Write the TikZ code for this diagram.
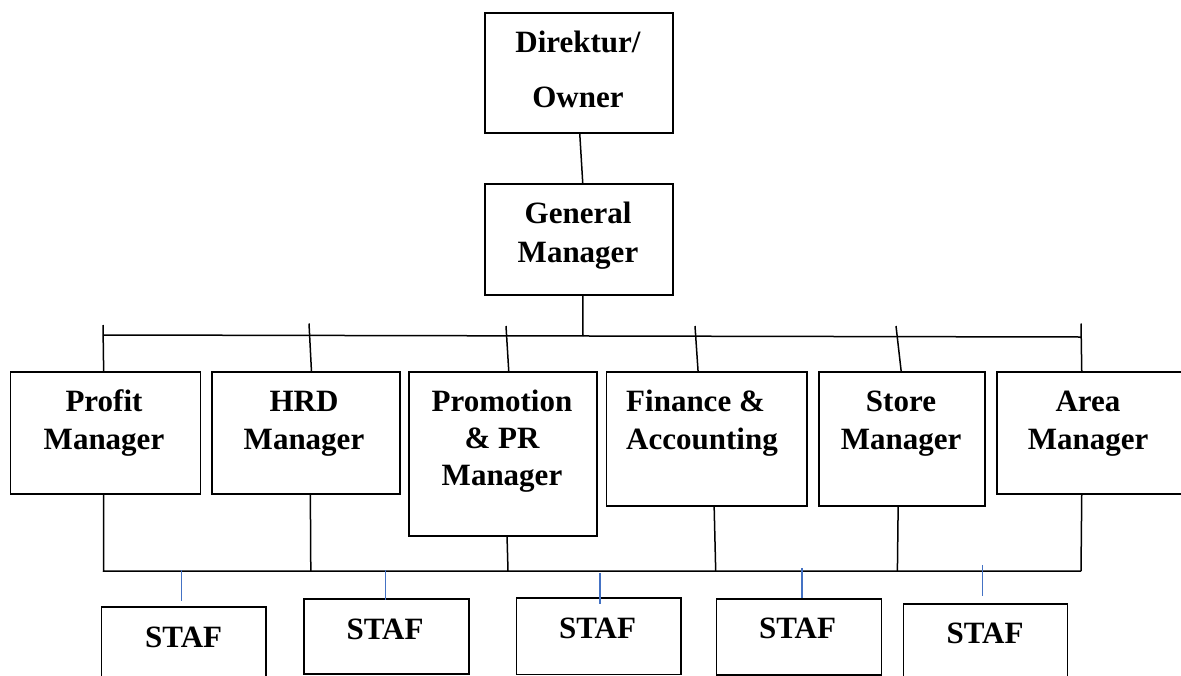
\documentclass[tikz,border=0pt]{standalone}
\usepackage{fontspec}
\setmainfont{Liberation Serif}
\usetikzlibrary{calc}
\definecolor{staffblue}{HTML}{4472C4}
\tikzset{
  box/.style={draw=black, line width=1.5pt, rectangle, inner sep=0pt, anchor=north west},
  lbl/.style={inner sep=0pt, anchor=base, align=center, font=\fontsize{31}{38}\selectfont\bfseries},
  conn/.style={draw=black, line width=1.5pt},
  blueline/.style={draw=staffblue, line width=1.4pt}
}
\begin{document}
\begin{tikzpicture}[x=1pt,y=-1pt]
\useasboundingbox (0,0) rectangle (1181,675);
\clip (0,0) rectangle (1181,675);
% boxes
\node[box, minimum width=188pt, minimum height=120pt] (dir) at (484,12) {};
\node[box, minimum width=188pt, minimum height=111pt] (gm) at (484,183) {};
\node[box, minimum width=190pt, minimum height=122pt] (profit) at (9.6,371) {};
\node[box, minimum width=188pt, minimum height=122pt] (hrd) at (211.3,371) {};
\node[box, minimum width=188pt, minimum height=164pt] (promo) at (408.3,371) {};
\node[box, minimum width=200.4pt, minimum height=134pt] (fin) at (605.7,371) {};
\node[box, minimum width=166.4pt, minimum height=134pt] (store) at (818,371) {};
\node[box, minimum width=200pt, minimum height=122pt] (area) at (996,371) {};
\node[box, minimum width=164.3pt, minimum height=80pt] (staf1) at (100.7,606) {};
\node[box, minimum width=165pt, minimum height=74.7pt] (staf2) at (303,598.3) {};
\node[box, minimum width=164.6pt, minimum height=76.5pt] (staf3) at (515.7,597.3) {};
\node[box, minimum width=165pt, minimum height=76pt] (staf4) at (715.7,598) {};
\node[box, minimum width=164pt, minimum height=80pt] (staf5) at (902.7,603.3) {};
% texts (anchor = baseline of last line)
\node[lbl, font=\fontsize{31}{55}\selectfont\bfseries] (dirT) at (578,107) {Direktur/\\Owner};
\node[lbl, font=\fontsize{31}{39}\selectfont\bfseries] (gmT) at (578,262) {General\\Manager};
\node[lbl] (profitT) at (104,449.5) {Profit\\Manager};
\node[lbl] (hrdT) at (304,449.5) {HRD\\Manager};
\node[lbl, font=\fontsize{31}{37}\selectfont\bfseries] (promoT) at (502,485.7) {Promotion\\\& PR\\Manager};
\node[lbl, anchor=base west, align=left] (finT) at (626,449.5) {Finance \&\\Accounting};
\node[lbl] (storeT) at (901,449.5) {Store\\Manager};
\node[lbl] (areaT) at (1088,449.5) {Area\\Manager};
\node[lbl] (s1T) at (183.7,647) {STAF};
\node[lbl] (s2T) at (385,639) {STAF};
\node[lbl] (s3T) at (597.5,638) {STAF};
\node[lbl] (s4T) at (797.5,638) {STAF};
\node[lbl] (s5T) at (985,643) {STAF};
% coordinates
\coordinate (busL) at (103,335);
\coordinate (busR) at (1081,337);
\coordinate (busM) at (583,336);
\coordinate (tP) at (103,325);
\coordinate (tH) at (309,323.5);
\coordinate (tPr) at (506,326);
\coordinate (tF) at (695,326);
\coordinate (tS) at (896,326);
\coordinate (tA) at (1081,323.5);
\coordinate (lbL) at (103.5,571);
\coordinate (lbR) at (1081,571);
\coordinate (lbH) at (310.8,571);
\coordinate (lbPr) at (508,571);
\coordinate (lbF) at (715.7,571);
\coordinate (lbS) at (897.4,571);
\coordinate (b1) at (181.7,570);
\coordinate (b2) at (385.7,570);
\coordinate (b3) at (600,572.8);
\coordinate (b4) at (802,567.8);
\coordinate (b5) at (982.7,565);
% top connectors
\draw[conn] ([xshift=1pt]dir.south) -- ([xshift=4pt]gm.north);
\draw[conn] ([xshift=4pt]gm.south) -- (busM);
\draw[conn] (busL) -- (busR);
\draw[conn] (tP) -- ([xshift=-1.7pt]profit.north);
\draw[conn] (tH) -- ([xshift=5.4pt]hrd.north);
\draw[conn] (tPr) -- ([xshift=5.7pt]promo.north);
\draw[conn] (tF) -- ([xshift=-8.6pt]fin.north);
\draw[conn] (tS) -- ([xshift=-0.8pt]store.north);
\draw[conn] (tA) -- ([xshift=-15pt]area.north);
% lower bus
\draw[conn] ([xshift=-1.7pt]profit.south) -- (lbL) -- (lbR);
\draw[conn] ([xshift=4.3pt]hrd.south) -- (lbH);
\draw[conn] ([xshift=4pt]promo.south) -- (lbPr);
\draw[conn] ([xshift=7.5pt]fin.south) -- (lbF);
\draw[conn] ([xshift=-3.8pt]store.south) -- (lbS);
\draw[conn] ([xshift=-15pt]area.south) -- (lbR);
% staff links
\draw[blueline] (b1) -- ($(b1 |- staf1.north)+(0pt,5.3pt)$);
\draw[blueline] (b2) -- ($(b2 |- staf2.north)+(0pt,-1.7pt)$);
\draw[blueline] (b3) -- ($(b3 |- staf3.north)+(0pt,-6.7pt)$);
\draw[blueline] (b4) -- (b4 |- staf4.north);
\draw[blueline] (b5) -- ($(b5 |- staf5.north)+(0pt,7.3pt)$);
\end{tikzpicture}
\end{document}
